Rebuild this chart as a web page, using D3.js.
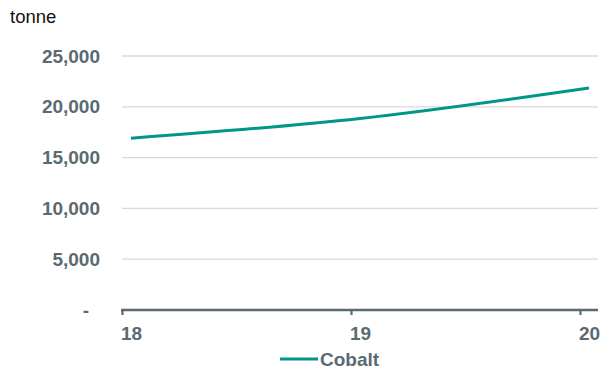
<!DOCTYPE html>
<html>
<head>
<meta charset="utf-8">
<script src="https://cdn.jsdelivr.net/npm/d3@7"></script>
<style>
  html, body { margin: 0; padding: 0; background: #fff; }
  svg { display: block; font-family: "Liberation Sans", Arial, Helvetica, sans-serif; }
</style>
</head>
<body>
<svg id="chart" width="603" height="373"></svg>
<script>
// Cobalt output, tonnes, by year
const years = [18, 19, 20];
const cobalt = [16900, 18850, 21850];
const yTicks = [0, 5000, 10000, 15000, 20000, 25000];
const seriesName = "Cobalt";
const unitLabel = "tonne";

const textColor = "#5a6a72";
const lineColor = "#00968a";
const gridColor = "#d9d9d9";

const svg = d3.select("#chart");

const plotLeft = 122, plotRight = 598, plotTop = 56, plotBottom = 310;
const pointShift = 9; // points and labels sit just right of each tick

const x = d3.scaleLinear().domain([18, 20]).range([122, 580]);
const y = d3.scaleLinear().domain([0, 25000]).range([plotBottom, plotTop]);

// unit label
svg.append("text")
  .attr("x", 10).attr("y", 23)
  .attr("font-size", 18.5).attr("fill", "#111")
  .text(unitLabel);

// horizontal gridlines
svg.append("g").selectAll("line")
  .data(yTicks.filter(d => d > 0))
  .join("line")
  .attr("x1", plotLeft).attr("x2", plotRight)
  .attr("y1", d => y(d)).attr("y2", d => y(d))
  .attr("stroke", gridColor).attr("stroke-width", 1.3);

// y axis labels
const yAxis = d3.axisLeft(y)
  .tickValues(yTicks)
  .tickSize(0)
  .tickPadding(0)
  .tickFormat(d => d === 0 ? "-" : d3.format(",")(d));
const gy = svg.append("g").attr("transform", "translate(100,0)").call(yAxis);
gy.select(".domain").remove();
gy.selectAll("text")
  .attr("font-size", 19).attr("font-weight", "bold")
  .attr("fill", textColor)
  .attr("dx", d => d === 0 ? -11 : 0);

// x axis
const xAxis = d3.axisBottom(x)
  .tickValues(years)
  .tickSize(5)
  .tickSizeOuter(0)
  .tickPadding(12)
  .tickFormat(d3.format("d"));
const gx = svg.append("g").attr("transform", `translate(0,${plotBottom})`).call(xAxis);
gx.select(".domain").remove();
gx.selectAll(".tick line").attr("stroke", textColor).attr("stroke-width", 2.2);
gx.selectAll("text")
  .attr("font-size", 19).attr("font-weight", "bold")
  .attr("fill", textColor)
  .attr("dx", pointShift);
gx.append("line")
  .attr("x1", x(18) - 1).attr("x2", plotRight)
  .attr("y1", 0).attr("y2", 0)
  .attr("stroke", textColor).attr("stroke-width", 2.6);

// series line
const line = d3.line()
  .x((d, i) => x(years[i]) + pointShift)
  .y(d => y(d))
  .curve(d3.curveMonotoneX);
svg.append("path")
  .datum(cobalt)
  .attr("d", line)
  .attr("fill", "none")
  .attr("stroke", lineColor)
  .attr("stroke-width", 3);

// legend
const lg = svg.append("g").attr("transform", "translate(280,359)");
lg.append("line")
  .attr("x1", 0).attr("x2", 38).attr("y1", 0).attr("y2", 0)
  .attr("stroke", lineColor).attr("stroke-width", 3);
lg.append("text")
  .attr("x", 40).attr("y", 7)
  .attr("font-size", 19).attr("font-weight", "bold")
  .attr("fill", textColor)
  .text(seriesName);
</script>
</body>
</html>
